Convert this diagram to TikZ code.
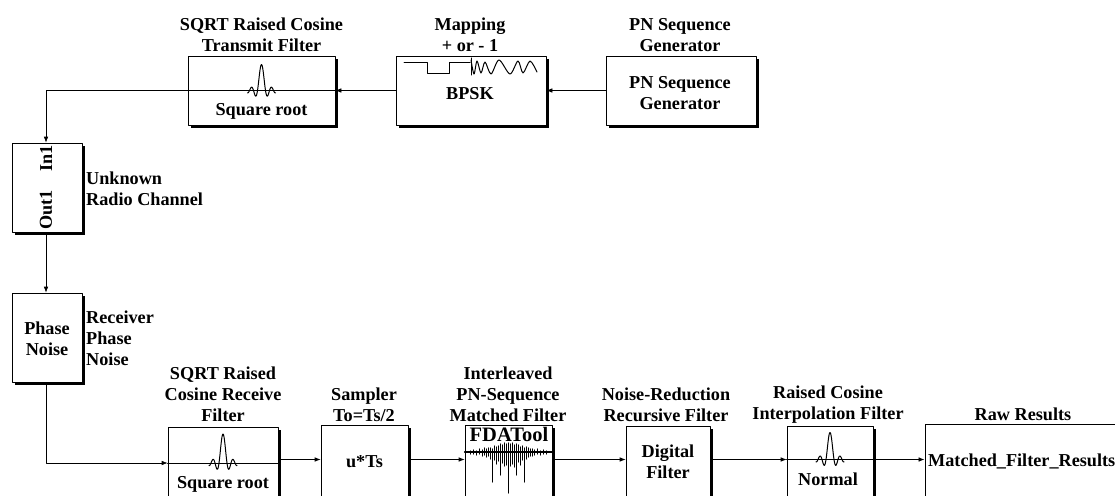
\documentclass[tikz,border=0pt]{standalone}
\usepackage{fontspec}
\setmainfont{Liberation Serif}
\usetikzlibrary{arrows.meta,shadows,calc}
\tikzset{
  blk/.style={rectangle,draw,fill=white,line width=0.7pt,inner sep=1pt,align=center,
              drop shadow={shadow xshift=3pt,shadow yshift=-2.6pt,fill=black,opacity=1}},
  lbl/.style={inner sep=0pt,align=center,font=\fontsize{18.2}{21}\selectfont\bfseries},
  side/.style={lbl,align=left,anchor=west},
  wire/.style={line width=0.7pt,-{Latex[length=6pt,width=4.6pt]}},
  icon/.style={line width=1pt},
  every picture/.style={line cap=round,line join=round}}
% pulse on the line through a block: block, level, height
\newcommand{\pulseicon}[3]{
  \draw[icon] (#1.west |- #2)--(#1.east |- #2);
  \begin{scope}[shift={(#1.center |- #2)}]
    \draw[icon] plot[domain=-14.05:14,samples=85] (\x,{-#3*sin(45*\x)/(0.7854*\x)});
  \end{scope}}
\begin{document}
\begin{tikzpicture}[x=1pt,y=-1pt]
  \useasboundingbox (0,0) rectangle (1115,495);
  % top row
  \node[blk,minimum width=147pt,minimum height=69pt] (tx) at (261.5,90.5){};
  \node[blk,minimum width=150pt,minimum height=69pt] (map) at (471,90.5){};
  \node[blk,minimum width=150pt,minimum height=69pt] (pn) at (681,90.5){};
  \node[lbl] (txl) at (261.5,35){SQRT Raised Cosine\\Transmit Filter};
  \node[lbl] (mapl) at (470,35){Mapping\\+ or - 1};
  \node[lbl] (pnl) at (680,35){PN Sequence\\Generator};
  \node[lbl] (pnt) at (680,93){PN Sequence\\Generator};
  \node[lbl] (mapt) at (470,93.5){BPSK};
  % channel and phase noise
  \node[blk,minimum width=70pt,minimum height=89pt] (ch) at (47,187.5){};
  \node[lbl,rotate=90,anchor=east] (chi) at (46,145){In1};
  \node[lbl,rotate=90,anchor=west] (cho) at (46,230){Out1};
  \node[side] (chl) at (86,188.5){Unknown\\Radio Channel};
  \node[blk,minimum width=70pt,minimum height=89pt] (ph) at (47,337.5){};
  \node[lbl] (pht) at (47,339){Phase\\Noise};
  \node[side] (phl) at (86,338.5){Receiver\\Phase\\Noise};
  % bottom row
  \node[blk,minimum width=110pt,minimum height=80pt] (rx) at (223,467){};
  \node[blk,minimum width=87pt,minimum height=80pt] (smp) at (364.5,465){};
  \node[blk,minimum width=87pt,minimum height=80pt] (fda) at (508.5,465){};
  \node[blk,minimum width=84pt,minimum height=80pt] (dig) at (668,466){};
  \node[blk,minimum width=86pt,minimum height=80pt] (nrm) at (830,466){};
  \node[blk,minimum width=200pt,minimum height=80pt,anchor=west] (raw) at (924.5,464){};
  \node[lbl] (smpt) at (364.5,462){u*Ts};
  \node[lbl] (digt) at (668,462){Digital\\Filter};
  \node[lbl,anchor=west] (rawt) at (928,461){Matched\_Filter\_Results};
  \node[lbl] (rxl) at (223,394.5){SQRT Raised\\Cosine Receive\\Filter};
  \node[lbl] (smpl) at (364,404.5){Sampler\\To=Ts/2};
  \node[lbl] (fdal) at (508,394){Interleaved\\PN-Sequence\\Matched Filter};
  \node[lbl] (digl) at (666,404.5){Noise-Reduction\\Recursive Filter};
  \node[lbl] (nrml) at (828,404.5){Raised Cosine\\Interpolation Filter};
  \node[lbl] (rawl) at (1023,414){Raw Results};
  \node[lbl] (txt) at (261.5,111.5){Square root};
  \node[lbl] (rxt) at (223,484){Square root};
  \node[lbl,font=\fontsize{20.5}{21}\selectfont\bfseries] (fdat) at (509,434){FDATool};
  \node[lbl] (nrmt) at (828,479.5){Normal};
  % connectors
  \coordinate (c1) at (46,90.5);
  \coordinate (c2) at (46,463);
  \coordinate (c3) at (46,459.5);
  \draw[wire] (pn.west)--(map.east);
  \draw[wire] (map.west)--(tx.east);
  \draw[wire] (tx.west)--(c1)--(ch.north -| c1);
  \draw[wire] (ch.south -| c1)--(ph.north -| c1);
  \draw[wire] (ph.south -| c1)--(c2)--(rx.west |- c2);
  \draw[wire] (rx.east |- c3)--(smp.west |- c3);
  \draw[wire] (smp.east |- c3)--(fda.west |- c3);
  \draw[wire] (fda.east |- c3)--(dig.west |- c3);
  \draw[wire] (dig.east |- c3)--(nrm.west |- c3);
  \draw[wire] (nrm.east |- c3)--(raw.west |- c3);
  % icons
  \pulseicon{tx}{c1}{26}
  \pulseicon{rx}{c2}{29}
  \pulseicon{nrm}{c3}{27}
  \draw[icon] (404,62)--(427,62)--(427,73)--(449,73)--(449,62)--(470,62);
  \draw[icon] (471,58)--(471,75);
  \draw[icon] plot[smooth,tension=0.5] coordinates {(471,60) (474,74) (477,61) (481,73)
    (485,62) (491,74) (499,60) (510,74) (518,61) (523,73) (530,61) (537,72)};
  \coordinate (fdac) at (508.5,452);
  \draw[line width=1.4pt] (fda.west |- fdac)--(fda.east |- fdac);
  \foreach \dx/\up/\dn in {-38/1/2,-35/2/2,-32/1/3,-29/3/2,-26/2/4,-24/4/3,-22/3/5,-20/4/4,
    -18/4/7,-16/3/30,-14/6/8,-12/5/12,-10/6/9,-8/8/23,-6/7/11,-4/9/14,-2/8/13,0/9/41,2/8/14,
    4/9/12,6/7/15,8/8/23,10/7/10,12/5/13,14/6/8,16/4/30,18/5/7,20/4/5,22/3/4,24/3/4,26/2/3,
    29/3/2,32/1/3,35/2/2,38/1/2}{
    \draw[line width=1.3pt] ($(fdac)+(\dx,-\up)$)--($(fdac)+(\dx,\dn)$);
  }
\end{tikzpicture}
\end{document}
